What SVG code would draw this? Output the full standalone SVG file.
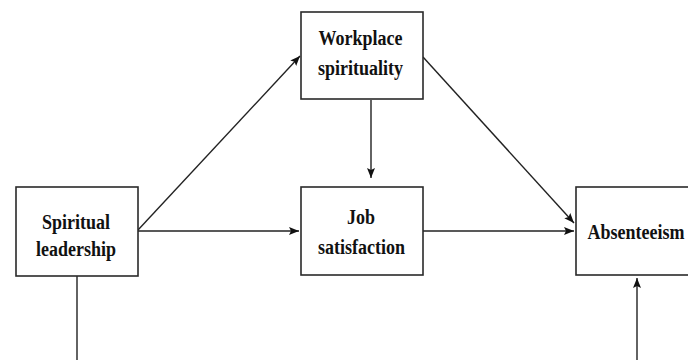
<svg xmlns="http://www.w3.org/2000/svg" width="688" height="360" viewBox="0 0 688 360">
<style>
.box{fill:#fff;stroke:#2a2a2a;stroke-width:1.6}
.ln{fill:none;stroke:#222;stroke-width:1.4}
.lbl{font-family:'Liberation Serif','Times New Roman',serif;font-weight:700;font-size:20px;fill:#111;text-anchor:middle}
</style>
<defs>
<marker id="ah" markerUnits="userSpaceOnUse" markerWidth="11" markerHeight="9" refX="10" refY="4" orient="auto">
<path d="M0,0 L10,4 L0,8 L2,4 z" fill="#111"/>
</marker>
</defs>
<rect width="688" height="360" fill="#fff"/>
<g id="connectors">
<line class="ln" x1="138" y1="230" x2="300" y2="56" marker-end="url(#ah)"/>
<line class="ln" x1="138" y1="231" x2="299" y2="231" marker-end="url(#ah)"/>
<line class="ln" x1="371" y1="100" x2="371" y2="178" marker-end="url(#ah)"/>
<line class="ln" x1="423" y1="57" x2="574" y2="223" marker-end="url(#ah)"/>
<line class="ln" x1="423" y1="231" x2="574" y2="231" marker-end="url(#ah)"/>
<line class="ln" x1="77" y1="276" x2="77" y2="362"/>
<line class="ln" x1="637" y1="362" x2="637" y2="278" marker-end="url(#ah)"/>
</g>
<g id="workplace-spirituality">
<rect class="box" x="301" y="12" width="122" height="87"/>
<text class="lbl" transform="translate(360.5,45) scale(0.9,1)">Workplace</text>
<text class="lbl" transform="translate(360.5,75) scale(0.9,1)">spirituality</text>
</g>
<g id="spiritual-leadership">
<rect class="box" x="16" y="187" width="122" height="89"/>
<text class="lbl" transform="translate(76,229) scale(0.9,1)">Spiritual</text>
<text class="lbl" transform="translate(76,256) scale(0.9,1)">leadership</text>
</g>
<g id="job-satisfaction">
<rect class="box" x="301" y="187" width="122" height="88"/>
<text class="lbl" transform="translate(361,224) scale(0.9,1)">Job</text>
<text class="lbl" transform="translate(361.5,254) scale(0.9,1)">satisfaction</text>
</g>
<g id="absenteeism">
<rect class="box" x="576" y="187" width="130" height="88"/>
<text class="lbl" transform="translate(636,239) scale(0.9,1)">Absenteeism</text>
</g>
</svg>
